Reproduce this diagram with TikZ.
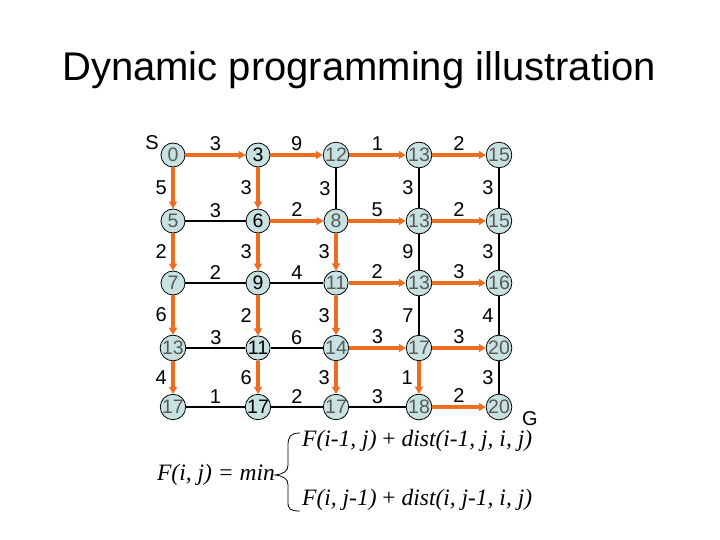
\documentclass[tikz,border=0pt]{standalone}
\usepackage{fontspec}
\setmainfont{Liberation Sans}
\newfontfamily\frmfont{Liberation Serif}
\usetikzlibrary{arrows.meta}
\definecolor{orangeC}{RGB}{238,108,32}
\definecolor{nodeC}{RGB}{200,226,226}
\begin{document}
\begin{tikzpicture}[x=1pt,y=-1pt,
  dp/.style={circle,draw=black,line width=0.8pt,fill=nodeC,minimum size=24pt,inner sep=0pt,
    font=\fontsize{19.5}{19.5}\selectfont,text=black!65},
  dpb/.style={dp,text=black},
  blk/.style={draw=black,line width=2.2pt},
  org/.style={draw=orangeC,line width=4pt,-{Triangle[length=7pt,width=8pt]}},
  hl/.style={font=\fontsize{20}{20}\selectfont,above=-1pt,midway},
  vl/.style={font=\fontsize{20}{20}\selectfont,left=1pt,midway},
  frm/.style={font=\frmfont\itshape\fontsize{23.5}{23.5}\selectfont,inner sep=0pt}]
\useasboundingbox (0,0) rectangle (720,540);
\node[font=\fontsize{40}{40}\selectfont] (title) at (359,70) {Dynamic programming illustration};
% nodes
\foreach \r/\y in {0/155,1/221,2/283,3/348,4/407}{
  \foreach \c/\x in {0/173,1/258,2/336,3/419,4/499}{
    \coordinate (p\r\c) at (\x,\y);
  }
}
\node[dp] (n00) at (p00) {0};
\node[dpb] (n01) at (p01) {3};
\node[dp] (n02) at (p02) {12};
\node[dp] (n03) at (p03) {13};
\node[dp] (n04) at (p04) {15};
\node[dp] (n10) at (p10) {5};
\node[dpb] (n11) at (p11) {6};
\node[dp] (n12) at (p12) {8};
\node[dp] (n13) at (p13) {13};
\node[dp] (n14) at (p14) {15};
\node[dp] (n20) at (p20) {7};
\node[dpb] (n21) at (p21) {9};
\node[dp] (n22) at (p22) {11};
\node[dp] (n23) at (p23) {13};
\node[dp] (n24) at (p24) {16};
\node[dp] (n30) at (p30) {13};
\node[dpb] (n31) at (p31) {11};
\node[dp] (n32) at (p32) {14};
\node[dp] (n33) at (p33) {17};
\node[dp] (n34) at (p34) {20};
\node[dp] (n40) at (p40) {17};
\node[dpb] (n41) at (p41) {17};
\node[dp] (n42) at (p42) {17};
\node[dp] (n43) at (p43) {18};
\node[dp] (n44) at (p44) {20};
\node[font=\fontsize{20}{20}\selectfont] (S) at (152,143) {S};
\node[font=\fontsize{20}{20}\selectfont] (G) at (530,419) {G};
% horizontal edges: row/col/nextcol/weight/style
\foreach \r/\c/\d/\w/\s in {0/0/1/3/org,0/1/2/9/org,0/2/3/1/org,0/3/4/2/org,
  1/0/1/3/blk,1/1/2/2/org,1/2/3/5/org,1/3/4/2/org,
  2/0/1/2/blk,2/1/2/4/blk,2/2/3/2/org,2/3/4/3/org,
  3/0/1/3/blk,3/1/2/6/blk,3/2/3/3/org,3/3/4/3/org,
  4/0/1/1/blk,4/1/2/2/blk,4/2/3/3/blk,4/3/4/2/org}{
  \draw[\s] (n\r\c) -- node[hl]{\w} (n\r\d);
}
% vertical edges: col/row/nextrow/weight/style
\foreach \c/\r/\d/\w/\s in {0/0/1/5/org,0/1/2/2/org,0/2/3/6/org,0/3/4/4/org,
  1/0/1/3/org,1/1/2/3/org,1/2/3/2/org,1/3/4/6/org,
  2/0/1/3/blk,2/1/2/3/org,2/2/3/3/org,2/3/4/3/org,
  3/0/1/3/blk,3/1/2/9/blk,3/2/3/7/blk,3/3/4/1/org,
  4/0/1/3/blk,4/1/2/3/blk,4/2/3/4/blk,4/3/4/3/blk}{
  \draw[\s] (n\r\c) -- node[vl]{\w} (n\d\c);
}
% formula
\node[frm,anchor=east] (lhs) at (275,475) {F(i, j) = min};
\node[frm,anchor=west] (f1) at (302,441) {F(i-1, j) {\upshape+} dist(i-1, j, i, j)};
\node[frm,anchor=west] (f2) at (302,500) {F(i, j-1) {\upshape+} dist(i, j-1, i, j)};
\coordinate (bt) at (300,433);
\coordinate (bb) at (300,511);
\draw[line width=0.8pt] (bt) .. controls (290,433) and (288,437) .. (288,446)
  -- (288,465) .. controls (288,471) and (284,474) .. (lhs.east)
  .. controls (284,476) and (288,479) .. (288,485)
  -- (288,502) .. controls (288,509) and (290,511) .. (bb);
\end{tikzpicture}
\end{document}
